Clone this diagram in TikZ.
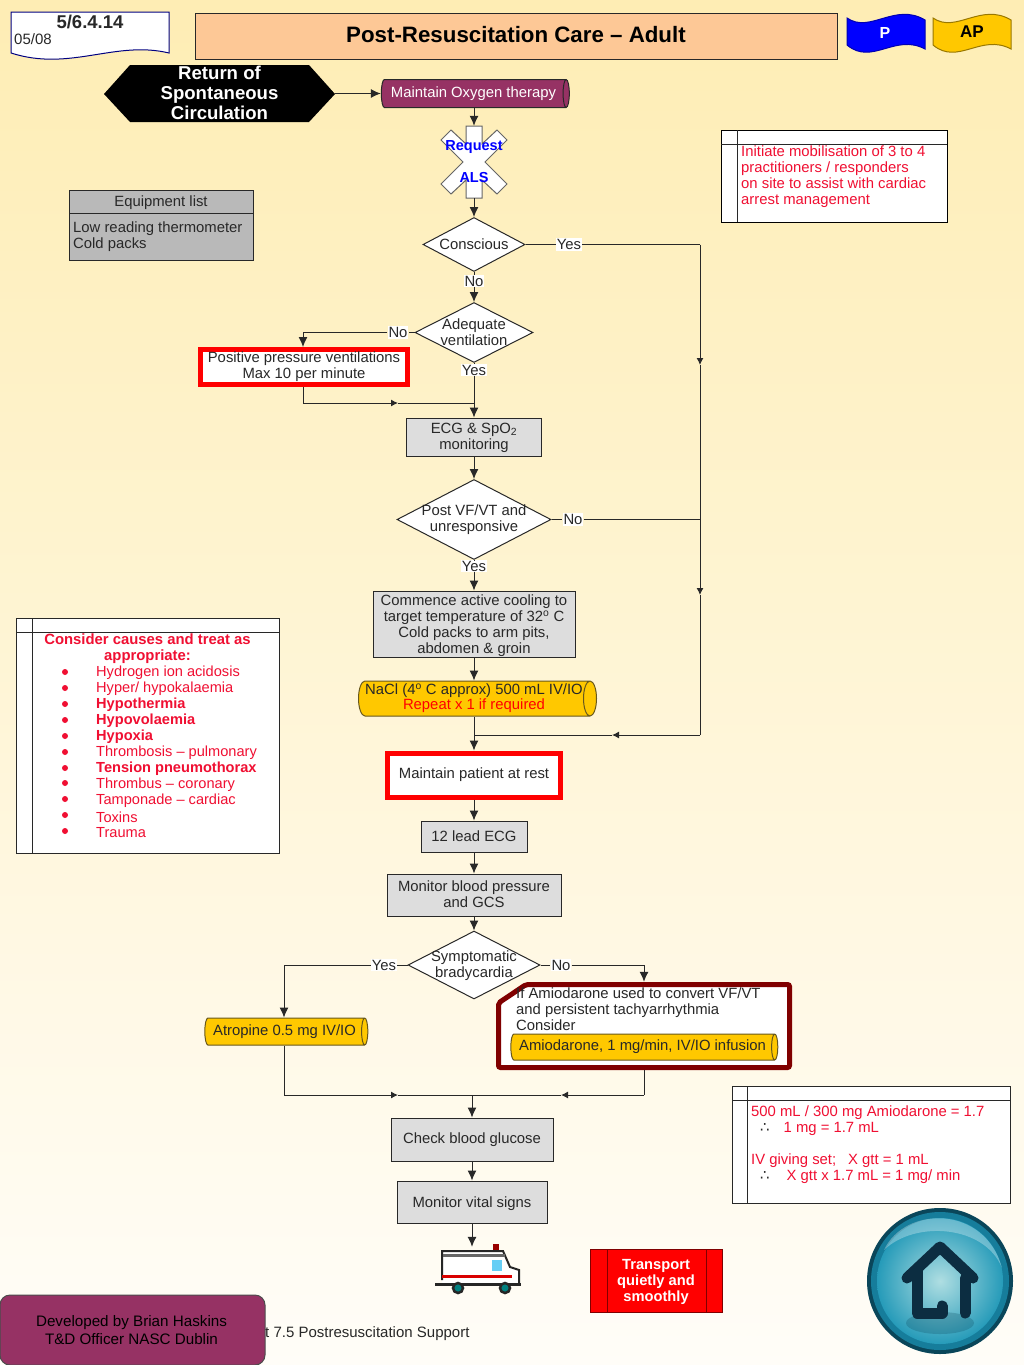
\documentclass[tikz,border=0pt]{standalone}
\usepackage{fontspec}
\setmainfont{Liberation Sans}
\newfontfamily\symfont{DejaVu Sans}
\usetikzlibrary{arrows, arrows.meta}
\usetikzlibrary{shapes.geometric}
\definecolor{bgtop}{RGB}{254,237,180}
\definecolor{bgbot}{RGB}{255,253,248}
\definecolor{linedark}{RGB}{40,40,40}
\definecolor{peach}{RGB}{253,200,150}
\definecolor{plum}{RGB}{150,50,100}
\definecolor{amber}{RGB}{255,200,0}
\definecolor{greybox}{RGB}{221,221,221}
\definecolor{greyhead}{RGB}{185,185,185}
\definecolor{alarm}{RGB}{240,15,50}
\definecolor{darkred}{RGB}{128,0,0}
\definecolor{navyblue}{RGB}{0,0,255}
\definecolor{btnrim}{RGB}{10,70,90}
\definecolor{btnring}{RGB}{22,125,155}
\definecolor{btnbody}{RGB}{38,155,185}
\definecolor{btnpale}{RGB}{175,222,226}
\definecolor{btnicon}{RGB}{12,45,65}
\tikzset{
  every node/.style={font=\fontsize{14.85}{16}\selectfont, text=linedark},
  every label/.style={align=center, inner sep=0pt},
  flow/.style={draw=linedark, line width=1pt, -{Latex[length=10pt,width=9pt]}},
  tick/.style={draw=linedark, line width=1pt, -{Latex[length=7pt,width=7pt]}},
  plain/.style={draw=linedark, line width=1pt},
  stepbox/.style={rectangle, draw=linedark, line width=1pt, fill=greybox, inner sep=0pt, align=center},
  alertbox/.style={rectangle, draw=red, line width=5pt, fill=white, inner sep=0pt, align=center},
  query/.style={diamond, draw=linedark, line width=1pt, fill=white, inner sep=0pt, align=center},
  drug/.style={cylinder, draw=linedark!70!amber, line width=1pt, fill=amber, inner sep=0pt, align=center, aspect=0.45, shape border rotate=0},
  answer/.style={fill=white, inner sep=1pt},
  redtext/.style={text=alarm, inner sep=0pt, align=left, anchor=west},
  cause/.style={redtext, font=\fontsize{14.6}{16}\selectfont},
  dotmark/.style={circle, fill=alarm, inner sep=0pt, minimum size=6pt},
  icon/.style={draw=btnicon, line width=11pt, line cap=round, line join=round},
}
\begin{document}
\begin{tikzpicture}[x=1pt, y=-1pt]
  \useasboundingbox (0,0) rectangle (1024,1365);
  \shade[top color=bgtop, bottom color=bgbot] (0,0) rectangle (1024,1365);

  % header
  \filldraw[fill=white, draw=navyblue!50!black, line width=1pt] (11,12) -- (169,12) -- (169,53) .. controls (115,40) and (70,72) .. (11,53) -- cycle;
  \node[font=\fontsize{18.5}{20}\selectfont\bfseries, inner sep=0pt] (code) at (90,21.5) {5/6.4.14};
  \node[font=\fontsize{15}{16}\selectfont, inner sep=0pt, anchor=west] (date) at (14,39.5) {05/08};
  \node[rectangle, draw=linedark, line width=1pt, fill=peach, minimum width=642pt, minimum height=46pt, inner sep=0pt, font=\fontsize{22.3}{24}\selectfont\bfseries, text=black] (title) at (516,36) {\raisebox{3pt}{Post-Resuscitation Care -- Adult}};
  \filldraw[fill=navyblue, draw=navyblue!70!black, line width=1pt] (847,18) .. controls (870,34) and (895,2) .. (925,20) -- (925,49) .. controls (895,33) and (872,66) .. (847,45) -- cycle;
  \node[font=\fontsize{16}{18}\selectfont\bfseries, text=white, inner sep=0pt] (para) at (885,33) {P};
  \filldraw[fill=amber, draw=black!40!amber, line width=1pt] (933,18) .. controls (956,34) and (981,2) .. (1011,20) -- (1011,49) .. controls (981,33) and (958,66) .. (933,45) -- cycle;
  \node[font=\fontsize{17}{18}\selectfont\bfseries, text=black, inner sep=0pt] (adv) at (972,32) {AP};

  % flow, top part
  \fill[black] (104,94) -- (130,65) -- (309,65) -- (335,94) -- (309,122) -- (130,122) -- cycle;
  \node[minimum width=231pt, minimum height=57pt, inner sep=0pt, label={[yshift=1pt, text=white, font=\fontsize{18.6}{20}\selectfont\bfseries]center:{Return of\\Spontaneous\\Circulation}}] (rosc) at (219.5,93.5) {};
  \node[drug, draw=linedark, fill=plum, text=white, minimum width=28pt, minimum height=188pt] (oxygen) at (473.5,93.5) {Maintain Oxygen therapy};
  \filldraw[fill=white, draw=black!60, line width=1pt, shift={(474,162)}] (-8,-36) -- (8,-36) -- (8,-18) -- (23,-32) -- (33,-22) -- (11,0) -- (33,22) -- (23,32) -- (8,18) -- (8,36) -- (-8,36) -- (-8,18) -- (-23,32) -- (-33,22) -- (-11,0) -- (-33,-22) -- (-23,-32) -- (-8,-18) -- cycle;
  \node[minimum width=66pt, minimum height=72pt, inner sep=0pt] (als) at (474,162) {};
  \node[text=navyblue, font=\fontsize{14.5}{16}\selectfont\bfseries, inner sep=0pt] (request) at (474,147) {Request};
  \node[text=navyblue, font=\fontsize{14.5}{16}\selectfont\bfseries, inner sep=0pt] (alslabel) at (474,178) {ALS};
  \node[query, minimum width=102pt, minimum height=54pt, label=center:{Conscious}] (conscious) at (474,244.5) {};
  \node[query, minimum width=118pt, minimum height=60pt, label=center:{Adequate\\ventilation}] (adequate) at (474,332.5) {};
  \node[alertbox, minimum width=207pt, minimum height=35pt] (ppv) at (304,367) {Positive pressure ventilations\\Max 10 per minute};
  \node[stepbox, minimum width=135pt, minimum height=38pt, label={[yshift=-1pt]center:{ECG \& SpO\textsubscript{2}\\monitoring}}] (ecg) at (474,437) {};
  \node[query, minimum width=154pt, minimum height=80pt, label={[yshift=-0.5pt]center:{Post VF/VT and\\unresponsive}}] (postvf) at (474,519.5) {};
  \node[stepbox, minimum width=202pt, minimum height=66pt, label={[yshift=-1.5pt]center:{Commence active cooling to\\target temperature of 32\textsuperscript{o} C\\Cold packs to arm pits,\\abdomen \& groin}}] (cooling) at (474,624) {};
  \node[drug, minimum width=35pt, minimum height=238pt] (nacl) at (474,698.5) {NaCl (4\textsuperscript{o} C approx) 500 mL IV/IO\\[-1pt]\textcolor{red}{Repeat x 1 if required}};
  \node[alertbox, minimum width=173pt, minimum height=44pt] (rest) at (474,775) {Maintain patient at rest};
  \node[stepbox, minimum width=106pt, minimum height=31pt] (twelve) at (474,836.5) {12 lead ECG};
  \node[stepbox, minimum width=174pt, minimum height=42pt, label={[yshift=1pt]center:{Monitor blood pressure\\and GCS}}] (bp) at (474,895) {};
  \node[query, minimum width=132pt, minimum height=68pt, label={[yshift=-1pt]center:{Symptomatic\\bradycardia}}] (brady) at (474,965) {};

  % two branches
  \node[drug, minimum width=27pt, minimum height=163pt] (atropine) at (284.5,1031.5) {Atropine 0.5 mg IV/IO};
  \filldraw[fill=white, draw=darkred, line width=5pt, rounded corners=2pt] (498.5,1003) -- (526,984.5) -- (789.5,984.5) -- (789.5,1067.5) -- (498.5,1067.5) -- cycle;
  \node[minimum width=296pt, minimum height=88pt, inner sep=0pt] (amio) at (644,1026) {};
  \node[inner sep=0pt, align=left, anchor=north west] (amiotext) at (516,987.5) {If Amiodarone used to convert VF/VT\\and persistent tachyarrhythmia\\Consider};
  \node[drug, minimum width=26pt, minimum height=267pt] (amiodrug) at (642.5,1047) {Amiodarone, 1 mg/min, IV/IO infusion};

  \node[stepbox, minimum width=162pt, minimum height=43pt] (glucose) at (472,1139.5) {Check blood glucose};
  \node[stepbox, minimum width=150pt, minimum height=42pt, label={[yshift=-1.5pt]center:{Monitor vital signs}}] (vital) at (472,1202) {};

  % ambulance
  \node[minimum width=86pt, minimum height=46pt, inner sep=0pt] (ambulance) at (478,1270) {};
  \filldraw[fill=white, draw=black!85, line width=2pt] (442,1280) -- (442,1251) -- (503,1251) -- (510,1267) -- (519,1270) -- (519,1284) -- (442,1284);
  \fill[black!60] (443,1254) rectangle (505,1257);
  \fill[cyan!60] (492,1260) rectangle (502,1271);
  \fill[red!85!black] (442,1275) rectangle (512,1278);
  \fill[black!85] (435,1283) rectangle (521,1286);
  \fill[red!60!black] (493,1244) rectangle (499,1250);
  \filldraw[fill=teal, draw=black!85, line width=2.5pt] (458,1288) circle (5);
  \filldraw[fill=teal, draw=black!85, line width=2.5pt] (505,1288) circle (5);

  % notes
  \node[rectangle, draw=linedark, line width=1pt, fill=greyhead, minimum width=184pt, minimum height=70pt, inner sep=0pt] (equip) at (161,225) {};
  \draw[plain] (69,213) -- (253,213);
  \node[inner sep=0pt] (equiphead) at (161,203) {Equipment list};
  \node[inner sep=0pt, align=left, anchor=west] (equiplist) at (73,237) {Low reading thermometer\\Cold packs};

  \node[rectangle, draw=black, line width=1pt, fill=white, minimum width=226pt, minimum height=92pt, inner sep=0pt] (mobil) at (834,176) {};
  \draw[plain] (721,144) -- (947,144);
  \draw[plain] (737,130) -- (737,222);
  \node[redtext] (mobiltext) at (741,177) {Initiate mobilisation of 3 to 4\\practitioners / responders\\on site to assist with cardiac\\arrest management};

  \node[rectangle, draw=linedark, line width=1pt, fill=white, minimum width=263pt, minimum height=235pt, inner sep=0pt] (causes) at (147.5,735.5) {};
  \draw[plain] (16,632) -- (279,632);
  \draw[plain] (32,618) -- (32,853);
  \node[text=alarm, inner sep=0pt, align=center, font=\fontsize{14.85}{16}\selectfont\bfseries] (causehead) at (147.5,649) {Consider causes and treat as\\appropriate:};
  \node[dotmark] (d1) at (65,672) {};
  \node[dotmark] (d2) at (65,688) {};
  \node[dotmark] (d3) at (65,704) {};
  \node[dotmark] (d4) at (65,720) {};
  \node[dotmark] (d5) at (65,736) {};
  \node[dotmark] (d6) at (65,752) {};
  \node[dotmark] (d7) at (65,768) {};
  \node[dotmark] (d8) at (65,783) {};
  \node[dotmark] (d9) at (65,799) {};
  \node[dotmark] (d10) at (65,815) {};
  \node[dotmark] (d11) at (65,831) {};
  \node[cause] (c1) at (96,673) {Hydrogen ion acidosis};
  \node[cause] (c2) at (96,689) {Hyper/ hypokalaemia};
  \node[cause] (c3) at (96,705) {\textbf{Hypothermia}};
  \node[cause] (c4) at (96,721) {\textbf{Hypovolaemia}};
  \node[cause] (c5) at (96,737) {\textbf{Hypoxia}};
  \node[cause] (c6) at (96,753) {Thrombosis -- pulmonary};
  \node[cause] (c7) at (96,769) {\textbf{Tension pneumothorax}};
  \node[cause] (c8) at (96,785) {Thrombus -- coronary};
  \node[cause] (c9) at (96,801) {Tamponade -- cardiac};
  \node[cause] (c10) at (96,817) {Toxins};
  \node[cause] (c11) at (96,833) {Trauma};

  \node[rectangle, draw=linedark, line width=1pt, fill=white, minimum width=278pt, minimum height=117pt, inner sep=0pt] (dose) at (871,1144.5) {};
  \draw[plain] (732,1100) -- (1010,1100);
  \draw[plain] (747,1086) -- (747,1203);
  \node[redtext, anchor=north west] (dosetext) at (751,1106) {500 mL / 300 mg Amiodarone = 1.7\\\hspace*{9pt}{\symfont\color{linedark}∴}\hspace*{14pt}1 mg = 1.7 mL\\[16pt]IV giving set;\hspace*{12pt}X gtt = 1 mL\\\hspace*{9pt}{\symfont\color{linedark}∴}\hspace*{17pt}X gtt x 1.7 mL = 1 mg/ min};

  \node[rectangle, draw=darkred, line width=1pt, fill=red, minimum width=132pt, minimum height=63pt, inner sep=0pt, label={[yshift=-1.5pt, text=white, font=\fontsize{14.7}{16}\selectfont\bfseries]center:{Transport\\quietly and\\smoothly}}] (transport) at (656,1280.5) {};
  \draw[draw=darkred, line width=1pt] (607,1249) -- (607,1312);
  \draw[draw=darkred, line width=1pt] (706,1249) -- (706,1312);

  % footer
  \node[inner sep=0pt, anchor=west, font=\fontsize{15}{16}\selectfont] (source) at (265,1334) {t 7.5 Postresuscitation Support};
  \node[rectangle, rounded corners=10pt, draw=black!70, line width=1pt, fill=plum, minimum width=265pt, minimum height=70pt, inner sep=0pt, label={[xshift=-1pt, text=black, font=\fontsize{15.2}{18}\selectfont]center:{Developed by Brian Haskins\\T\&D Officer NASC Dublin}}] (credit) at (132.5,1330) {};

  % home button
  \fill[btnrim] (940,1281) circle (73);
  \fill[btnring] (940,1281) circle (69);
  \shade[inner color=btnpale, outer color=btnbody] (940,1281) circle (63);
  \fill[white, opacity=0.3] (884,1250) .. controls (905,1205) and (985,1205) .. (1002,1268) .. controls (985,1225) and (915,1220) .. (884,1250) -- cycle;
  \fill[btnrim, opacity=0.25] (940,1323) ellipse (34 and 11);
  \draw[icon] (907,1278) -- (940,1247) -- (973,1278);
  \draw[icon] (917,1270) -- (917,1313) -- (942,1313) -- (942,1306);
  \draw[icon] (965,1278) -- (965,1313);

  % connectors
  \coordinate (consright) at (700,244.5);
  \coordinate (run1) at (700,365);
  \coordinate (postright) at (700,519.5);
  \coordinate (run2) at (700,595);
  \coordinate (runend) at (700,735);
  \coordinate (run3) at (612,735);
  \coordinate (join1) at (474,735);
  \coordinate (adeqleft) at (303,333);
  \coordinate (ppvdown) at (303,403);
  \coordinate (ppvmid) at (398,403);
  \coordinate (ppvjoin) at (474,403);
  \coordinate (bradyleft) at (284,965);
  \coordinate (bradyright) at (644,965);
  \coordinate (atrodown) at (284,1095);
  \coordinate (atromid) at (398,1095);
  \coordinate (amiodown) at (644,1095);
  \coordinate (amiomid) at (561,1095);
  \coordinate (join2) at (472,1095);

  \node[answer] (consyes) at (569,244.5) {Yes};
  \node[answer] (consno) at (474,281) {No};
  \node[answer] (adeqno) at (398,332.5) {No};
  \node[answer] (adeqyes) at (474,370) {Yes};
  \node[answer] (postno) at (573,519.5) {No};
  \node[answer] (postyes) at (474,566) {Yes};
  \node[answer] (bradyyes) at (384,965) {Yes};
  \node[answer] (bradyno) at (561,965) {No};

  \draw[flow] (rosc.east) -- (oxygen.west);
  \draw[flow] (oxygen.south -| als) -- (als.north);
  \draw[flow] (als.south) -- (conscious.north);
  \draw[plain] (conscious.south) -- (consno);
  \draw[flow] (consno) -- (adequate.north);
  \draw[plain] (conscious.east) -- (consyes);
  \draw[plain] (consyes) -- (consright);
  \draw[tick] (consright) -- (run1);
  \draw[plain] (run1) -- (postright);
  \draw[tick] (postright) -- (run2);
  \draw[plain] (run2) -- (runend);
  \draw[tick] (runend) -- (run3);
  \draw[plain] (run3) -- (join1);
  \draw[plain] (adequate.west) -- (adeqno);
  \draw[flow] (adeqno) -| (ppv.north -| adeqleft);
  \draw[plain] (adequate.south) -- (adeqyes);
  \draw[flow] (adeqyes) -- (ecg.north);
  \draw[plain] (ppv.south -| ppvdown) -- (ppvdown);
  \draw[tick] (ppvdown) -- (ppvmid);
  \draw[plain] (ppvmid) -- (ppvjoin);
  \draw[flow] (ecg.south) -- (postvf.north);
  \draw[plain] (postvf.east) -- (postno);
  \draw[plain] (postno) -- (postright);
  \draw[plain] (postvf.south) -- (postyes);
  \draw[flow] (postyes) -- (cooling.north);
  \draw[flow] (cooling.south) -- (nacl.north -| cooling);
  \draw[flow] (nacl.south -| rest) -- (rest.north);
  \draw[flow] (rest.south) -- (twelve.north);
  \draw[flow] (twelve.south) -- (bp.north);
  \draw[flow] (bp.south) -- (brady.north);
  \draw[plain] (brady.west) -- (bradyyes);
  \draw[flow] (bradyyes) -- (bradyleft) -- (atropine.north -| bradyleft);
  \draw[plain] (brady.east) -- (bradyno);
  \draw[flow] (bradyno) -- (bradyright) -- (amio.north);
  \draw[plain] (atropine.south -| atrodown) -- (atrodown);
  \draw[tick] (atrodown) -- (atromid);
  \draw[plain] (atromid) -- (join2);
  \draw[plain] (amio.south) -- (amiodown);
  \draw[tick] (amiodown) -- (amiomid);
  \draw[plain] (amiomid) -- (join2);
  \draw[flow] (join2) -- (glucose.north);
  \draw[flow] (glucose.south) -- (vital.north);
  \draw[flow] (vital.south) -- (ambulance.north -| vital);
\end{tikzpicture}
\end{document}
